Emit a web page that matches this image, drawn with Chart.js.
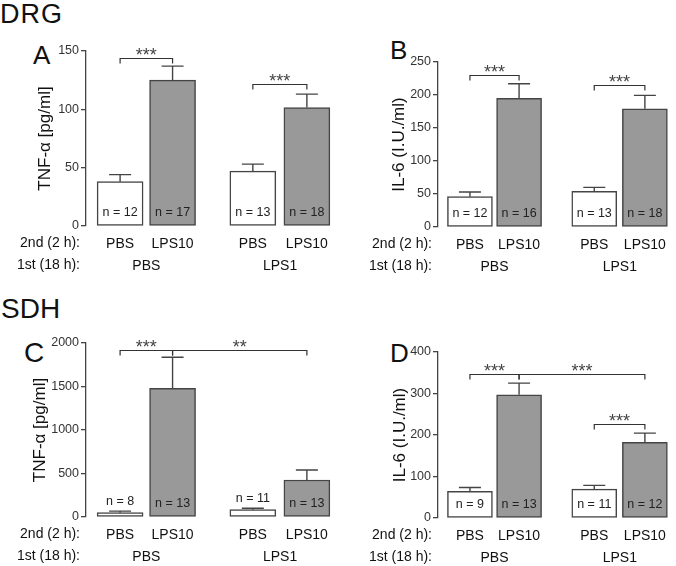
<!DOCTYPE html>
<html>
<head>
<meta charset="utf-8">
<script src="https://cdn.jsdelivr.net/npm/chart.js@4.4.1/dist/chart.umd.min.js"></script>
<style>
  body { margin: 0; background: #fff; width: 676px; height: 566px; position: relative; overflow: hidden;
         font-family: "Liberation Sans", Arial, sans-serif; }
  .panel { position: absolute; }
  .lbl { position: absolute; color: #111; line-height: 1; white-space: nowrap; }
</style>
</head>
<body>
<div class="lbl" style="left:0px;top:1px;font-size:27px;letter-spacing:1px">DRG</div>
<div class="lbl" style="left:1px;top:295px;font-size:28px">SDH</div>
<div class="lbl" style="left:33px;top:42px;font-size:26px">A</div>
<div class="lbl" style="left:390px;top:37px;font-size:26px">B</div>
<div class="lbl" style="left:24px;top:339px;font-size:28px">C</div>
<div class="lbl" style="left:390px;top:340px;font-size:26px">D</div>

<div class="panel" style="left:0;top:0"><canvas id="chartA" width="338" height="290"></canvas></div>
<div class="panel" style="left:338px;top:0"><canvas id="chartB" width="338" height="290"></canvas></div>
<div class="panel" style="left:0;top:290px"><canvas id="chartC" width="338" height="276"></canvas></div>
<div class="panel" style="left:338px;top:290px"><canvas id="chartD" width="338" height="276"></canvas></div>

<script>
// x labels
const secondLabels = ['PBS', 'LPS10', 'PBS', 'LPS10'];
const firstLabels = ['PBS', 'LPS1'];

// DRG TNF-alpha (A)
const tnfDrgMean = [38, 125, 47, 101.5];
const tnfDrgSem = [6, 12, 6, 11.5];
const tnfDrgN = [12, 17, 13, 18];
const tnfDrgSig = [[0, 1, 144, '***'], [2, 3, 121.5, '***']];

// DRG IL-6 (B)
const il6DrgMean = [46, 195, 54, 179];
const il6DrgSem = [7, 22, 6, 20.5];
const il6DrgN = [12, 16, 13, 18];
const il6DrgSig = [[0, 1, 231, '***'], [2, 3, 215, '***']];

// SDH TNF-alpha (C)
const tnfSdhMean = [50, 1479, 84, 425];
const tnfSdhSem = [18, 357, 16, 115];
const tnfSdhN = [8, 13, 11, 13];
const tnfSdhSig = [[0, 1, 1924, '***'], [1, 3, 1924, '**']];

// SDH IL-6 (D)
const il6SdhMean = [64, 297, 69.5, 182.5];
const il6SdhSem = [9.5, 28, 9, 22];
const il6SdhN = [9, 13, 11, 12];
const il6SdhSig = [[0, 1, 347, '***'], [1, 3, 347, '***'], [2, 3, 226, '***']];

// layout of the bar slots on the x axis
const slotX = [1, 2, 3.53, 4.56];
const groupX = [1.5, 4.05];
const barFill = ['#ffffff', '#999999', '#ffffff', '#999999'];
const FONT = '"Liberation Sans", Arial, sans-serif';
const INK = '#444';

const extras = {
  id: 'extras',
  afterDatasetsDraw(chart, args, opts) {
    const ctx = chart.ctx;
    const ys = chart.scales.y;
    const meta = chart.getDatasetMeta(0);
    const bottom = chart.chartArea.bottom;
    const means = chart.data.datasets[0].data.map(d => d.y);
    ctx.save();

    // error bars (mean + SEM)
    ctx.strokeStyle = INK;
    ctx.lineWidth = 1.4;
    means.forEach((m, i) => {
      const bx = meta.data[i].x;
      const yTop = ys.getPixelForValue(m);
      const yErr = ys.getPixelForValue(m + opts.sem[i]);
      ctx.beginPath();
      ctx.moveTo(bx, yTop);
      ctx.lineTo(bx, yErr);
      ctx.moveTo(bx - 11, yErr);
      ctx.lineTo(bx + 11, yErr);
      ctx.stroke();
    });

    // n labels
    ctx.fillStyle = '#222';
    ctx.font = '12.5px ' + FONT;
    ctx.textAlign = 'center';
    ctx.textBaseline = 'middle';
    means.forEach((m, i) => {
      const bx = meta.data[i].x;
      const yTop = ys.getPixelForValue(m);
      let ty = bottom - 13;
      if (bottom - yTop < 20) ty = ys.getPixelForValue(m + opts.sem[i]) - 10;
      ctx.fillText('n = ' + opts.n[i], bx, ty);
    });

    // significance brackets
    ctx.strokeStyle = '#333';
    ctx.lineWidth = 1.2;
    opts.sig.forEach(([a, b, v, label]) => {
      const x1 = meta.data[a].x, x2 = meta.data[b].x;
      const y = Math.round(ys.getPixelForValue(v)) + 0.5;
      ctx.beginPath();
      ctx.moveTo(x1, y + 5);
      ctx.lineTo(x1, y);
      ctx.lineTo(x2, y);
      ctx.lineTo(x2, y + 5);
      ctx.stroke();
      ctx.fillStyle = '#444';
      ctx.font = '18px ' + FONT;
      ctx.textBaseline = 'alphabetic';
      ctx.fillText(label, (x1 + x2) / 2, y + 2);
    });

    // row labels left of the x axes
    ctx.fillStyle = '#111';
    ctx.font = '14px ' + FONT;
    ctx.textAlign = 'right';
    ctx.textBaseline = 'top';
    const lx = chart.chartArea.left - 6;
    ctx.fillText('2nd (2 h):', lx, chart.scales.x.top + 10);
    ctx.fillText('1st (18 h):', lx, chart.scales.x2.top + 4);
    ctx.restore();
  }
};

function makePanel(id, cfg) {
  const el = document.getElementById(id);
  const W = el.width, H = el.height;
  const area = cfg.area;
  new Chart(el, {
    type: 'bar',
    data: {
      datasets: [{
        data: cfg.mean.map((v, i) => ({ x: slotX[i], y: v })),
        backgroundColor: barFill,
        borderColor: '#454545',
        borderWidth: 1.5,
        borderSkipped: false,
        barThickness: cfg.barW
      }]
    },
    options: {
      responsive: false,
      animation: false,
      events: [],
      layout: { padding: { left: 0, top: area.top, right: W - area.right, bottom: 0 } },
      plugins: {
        legend: { display: false },
        tooltip: { enabled: false },
        extras: { sem: cfg.sem, n: cfg.n, sig: cfg.sig }
      },
      scales: {
        x: {
          type: 'linear', axis: 'x', position: 'bottom', weight: 0,
          min: 0.35, max: 5.05, bounds: 'data', offset: false,
          grid: { display: false, drawTicks: false, tickLength: 0 },
          border: { display: false },
          ticks: {
            autoSkip: false, maxRotation: 0, padding: 10,
            color: '#111', font: { family: FONT, size: 14 },
            callback: (v, i) => secondLabels[i]
          },
          afterBuildTicks: s => { s.ticks = slotX.map(v => ({ value: v })); },
          afterFit: s => { s.height = 28; }
        },
        x2: {
          type: 'linear', axis: 'x', position: 'bottom', weight: 1,
          min: 0.35, max: 5.05, bounds: 'data', offset: false,
          grid: { display: false, drawTicks: false, tickLength: 0 },
          border: { display: false },
          ticks: {
            autoSkip: false, maxRotation: 0, padding: 4,
            color: '#111', font: { family: FONT, size: 14 },
            callback: (v, i) => firstLabels[i]
          },
          afterBuildTicks: s => { s.ticks = groupX.map(v => ({ value: v })); },
          afterFit: s => { s.height = H - area.bottom - 28; }
        },
        y: {
          position: 'left',
          min: 0, max: cfg.yMax,
          ticks: {
            stepSize: cfg.step, padding: 2, color: '#333', font: { family: FONT, size: 12.5 },
            callback: v => String(v)
          },
          grid: { display: true, drawOnChartArea: false, drawTicks: true, tickLength: 5, color: INK, lineWidth: 1.3 },
          border: { display: true, color: INK, width: 1.3 },
          title: {
            display: true, text: cfg.yTitle, color: '#111',
            font: { family: FONT, size: 17 },
            padding: { top: cfg.titleX, bottom: 0 }
          },
          afterFit: s => { s.width = area.left; }
        }
      }
    },
    plugins: [extras]
  });
}

makePanel('chartA', {
  mean: tnfDrgMean, sem: tnfDrgSem, n: tnfDrgN, sig: tnfDrgSig,
  yMax: 150, step: 50, yTitle: 'TNF-\u03b1 [pg/ml]', titleX: 35, barW: 46,
  area: { left: 86, top: 51, right: 337, bottom: 226 }
});
makePanel('chartB', {
  mean: il6DrgMean, sem: il6DrgSem, n: il6DrgN, sig: il6DrgSig,
  yMax: 250, step: 50, yTitle: 'IL-6 (I.U./ml)', titleX: 51, barW: 45,
  area: { left: 100, top: 62, right: 337, bottom: 227 }
});
makePanel('chartC', {
  mean: tnfSdhMean, sem: tnfSdhSem, n: tnfSdhN, sig: tnfSdhSig,
  yMax: 2000, step: 500, yTitle: 'TNF-\u03b1 [pg/ml]', titleX: 30, barW: 46,
  area: { left: 86, top: 53, right: 337, bottom: 227 }
});
makePanel('chartD', {
  mean: il6SdhMean, sem: il6SdhSem, n: il6SdhN, sig: il6SdhSig,
  yMax: 400, step: 100, yTitle: 'IL-6 (I.U./ml)', titleX: 52, barW: 45,
  area: { left: 100, top: 62, right: 337, bottom: 228 }
});
</script>
</body>
</html>
